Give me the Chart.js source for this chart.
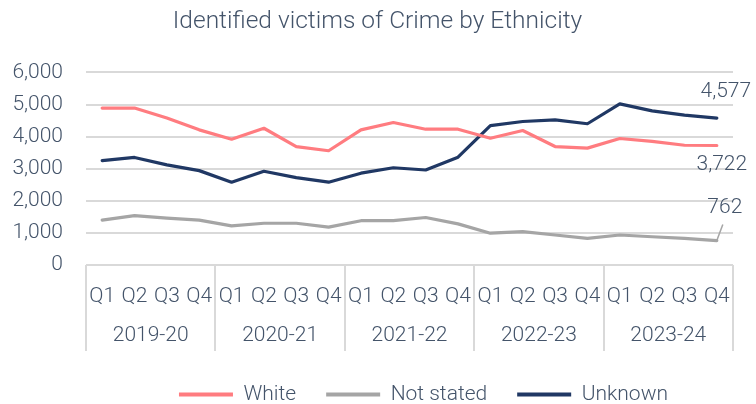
<!DOCTYPE html>
<html>
<head>
<meta charset="utf-8">
<script src="https://cdn.jsdelivr.net/npm/chart.js@4"></script>
<style>
  html, body { margin: 0; padding: 0; background: #fff; }
  #wrap { width: 756px; height: 404px; }
</style>
</head>
<body>
<div id="wrap"><canvas id="crimeChart"></canvas></div>
<script>
// Chart data
const quarters = ['Q1', 'Q2', 'Q3', 'Q4', 'Q1', 'Q2', 'Q3', 'Q4', 'Q1', 'Q2', 'Q3', 'Q4',
                  'Q1', 'Q2', 'Q3', 'Q4', 'Q1', 'Q2', 'Q3', 'Q4'];
const years = ['2019-20', '2020-21', '2021-22', '2022-23', '2023-24'];
const whiteValues = [4890, 4890, 4580, 4210, 3920, 4260, 3690, 3560, 4210, 4440,
                     4230, 4230, 3950, 4190, 3690, 3640, 3940, 3850, 3730, 3722];
const notStatedValues = [1400, 1540, 1460, 1400, 1220, 1300, 1300, 1180, 1380, 1380,
                         1480, 1280, 990, 1040, 935, 830, 935, 880, 830, 762];
const unknownValues = [3250, 3350, 3120, 2940, 2580, 2920, 2720, 2580, 2860, 3030,
                       2960, 3360, 4340, 4470, 4520, 4400, 5020, 4800, 4670, 4577];
const yTicks = [0, 1000, 2000, 3000, 4000, 5000, 6000];

const textColor = '#44546A';
const fontFamily = 'Roboto, "Liberation Sans", sans-serif';
const fontWeight = '300';

// Year groups + divider lines under the x axis
const groupAxisPlugin = {
    id: 'groupAxis',
    afterLayout(chart) {
        // legend and title in the reference sit a little right of the plot centre
        chart.legend.left += 57;
        chart.legend.right += 57;
        chart.titleBlock.left += 11;
        chart.titleBlock.right += 11;
    },
    afterDraw(chart) {
        const { ctx, chartArea, scales: { x } } = chart;
        const step = x.getPixelForValue(1) - x.getPixelForValue(0);
        ctx.save();
        ctx.strokeStyle = '#D9D9D9';
        ctx.lineWidth = 2;
        for (let g = 0; g <= years.length; g++) {
            const px = Math.round(x.getPixelForValue(g * 4) - step / 2);
            ctx.beginPath();
            ctx.moveTo(px, chartArea.bottom);
            ctx.lineTo(px, chartArea.bottom + 86);
            ctx.stroke();
        }
        ctx.fillStyle = textColor;
        ctx.font = fontWeight + ' 21px ' + fontFamily;
        ctx.textAlign = 'center';
        ctx.textBaseline = 'middle';
        years.forEach((yr, g) => {
            const cx = (x.getPixelForValue(g * 4 + 1) + x.getPixelForValue(g * 4 + 2)) / 2;
            ctx.fillText(yr, cx, chartArea.bottom + 71);
        });
        ctx.restore();
    }
};

// Labels on the last point of each series
const endLabelPlugin = {
    id: 'endLabels',
    afterDatasetsDraw(chart) {
        const { ctx, scales: { x, y } } = chart;
        const last = quarters.length - 1;
        const px = x.getPixelForValue(last);
        ctx.save();
        ctx.fillStyle = textColor;
        ctx.font = fontWeight + ' 21px ' + fontFamily;
        ctx.textAlign = 'center';
        ctx.textBaseline = 'middle';
        ctx.fillText(unknownValues[last].toLocaleString('en-US'), px + 9, y.getPixelForValue(unknownValues[last]) - 26);
        ctx.fillText(whiteValues[last].toLocaleString('en-US'), px + 5, y.getPixelForValue(whiteValues[last]) + 19);
        const ny = y.getPixelForValue(notStatedValues[last]);
        ctx.strokeStyle = '#A6A6A6';
        ctx.lineWidth = 1.5;
        ctx.beginPath();
        ctx.moveTo(px, ny);
        ctx.lineTo(px + 6, ny - 16);
        ctx.stroke();
        ctx.fillText(notStatedValues[last].toLocaleString('en-US'), px + 8, ny - 33);
        ctx.restore();
    }
};

const ctx = document.getElementById('crimeChart').getContext('2d');
const crimeChart = new Chart(ctx, {
    type: 'line',
    data: {
        labels: quarters,
        datasets: [
            {
                label: 'White',
                data: whiteValues,
                borderColor: '#FF7C80',
                backgroundColor: '#FF7C80'
            },
            {
                label: 'Not stated',
                data: notStatedValues,
                borderColor: '#A5A5A5',
                backgroundColor: '#A5A5A5'
            },
            {
                label: 'Unknown',
                data: unknownValues,
                borderColor: '#203864',
                backgroundColor: '#203864'
            }
        ]
    },
    options: {
        responsive: true,
        maintainAspectRatio: false,
        animation: false,
        elements: {
            line: { borderWidth: 3.2, tension: 0, borderCapStyle: 'round', borderJoinStyle: 'round' },
            point: { radius: 0 }
        },
        layout: {
            padding: { left: 0, right: 23, top: 0, bottom: -11 }
        },
        plugins: {
            title: {
                display: true,
                text: 'Identified victims of Crime by Ethnicity',
                color: textColor,
                font: { family: fontFamily, size: 24.5, weight: fontWeight },
                padding: { top: 7, bottom: 36 }
            },
            legend: {
                position: 'bottom',
                labels: {
                    color: textColor,
                    font: { family: fontFamily, size: 21, weight: fontWeight },
                    boxWidth: 54,
                    boxHeight: 4,
                    padding: 30,
                    generateLabels: (chart) => chart.data.datasets.map((ds, i) => ({
                        text: ds.label,
                        fillStyle: ds.borderColor,
                        strokeStyle: ds.borderColor,
                        lineWidth: 0,
                        fontColor: textColor,
                        datasetIndex: i,
                        hidden: false
                    }))
                }
            },
            tooltip: { enabled: false }
        },
        scales: {
            x: {
                offset: true,
                grid: { display: false },
                border: { display: false },
                ticks: {
                    color: textColor,
                    font: { family: fontFamily, size: 21, weight: fontWeight },
                    padding: 11,
                    maxRotation: 0,
                    autoSkip: false
                },
                afterFit: (scale) => { scale.height = 89; }
            },
            y: {
                min: 0,
                max: 6000,
                afterBuildTicks: (scale) => { scale.ticks = yTicks.map(v => ({ value: v })); },
                grid: { color: '#D9D9D9', lineWidth: 2, drawTicks: false },
                border: { display: false },
                ticks: {
                    color: textColor,
                    font: { family: fontFamily, size: 21, weight: fontWeight },
                    padding: 23,
                    callback: value => value.toLocaleString('en-US')
                },
                afterFit: (scale) => { scale.width = 86; }
            }
        }
    },
    plugins: [groupAxisPlugin, endLabelPlugin]
});
</script>
</body>
</html>
